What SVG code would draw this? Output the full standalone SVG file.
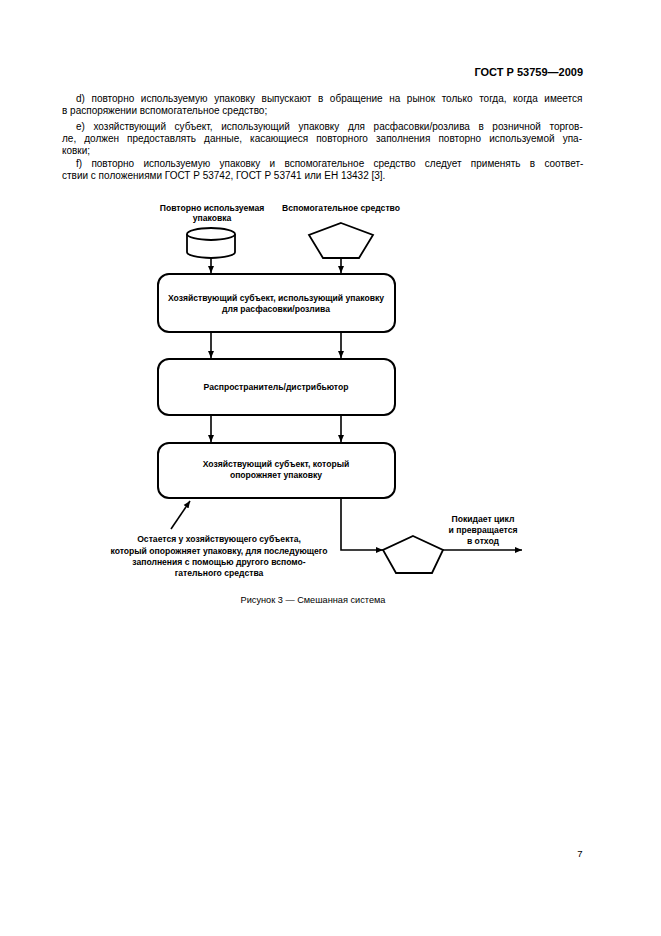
<svg xmlns="http://www.w3.org/2000/svg" width="661" height="936" viewBox="0 0 661 936">
<defs>
<marker id="ah" markerWidth="8" markerHeight="8" refX="7" refY="4" orient="auto" markerUnits="userSpaceOnUse">
<path d="M0,1 L7,4 L0,7 Z" fill="#000"/>
</marker>
<style>
.body{font-family:"Liberation Sans",Arial,sans-serif;font-size:10px;fill:#000}
.lbl{font-family:"Liberation Sans",Arial,sans-serif;font-size:8.6px;font-weight:bold;fill:#000;text-anchor:middle}
.box{fill:#fff;stroke:#000;stroke-width:2}
.shape{fill:#fff;stroke:#000;stroke-width:1.8}
.con{fill:none;stroke:#000;stroke-width:1.6}
</style>
</defs>
<rect width="661" height="936" fill="#fff"/>
<text x="583" y="76" class="body" style="font-size:11px;font-weight:bold" text-anchor="end">ГОСТ Р 53759—2009</text>
<text class="body" x="76" y="102" word-spacing="3.8">d) повторно используемую упаковку выпускают в обращение на рынок только тогда, когда имеется</text>
<text class="body" x="62" y="114">в распоряжении вспомогательное средство;</text>
<text class="body" x="76" y="130" word-spacing="5.8">e) хозяйствующий субъект, использующий упаковку для расфасовки/розлива в розничной торгов-</text>
<text class="body" x="62" y="142" word-spacing="5.3">ле, должен предоставлять данные, касающиеся повторного заполнения повторно используемой упа-</text>
<text class="body" x="62" y="154">ковки;</text>
<text class="body" x="76" y="167" word-spacing="6.5">f) повторно используемую упаковку и вспомогательное средство следует применять в соответ-</text>
<text class="body" x="62" y="179">ствии с положениями ГОСТ Р 53742, ГОСТ Р 53741 или ЕН 13432 [3].</text>

<g id="connectors">
<line class="con" x1="211" y1="258" x2="211" y2="273" marker-end="url(#ah)"/>
<line class="con" x1="341" y1="258" x2="341" y2="273" marker-end="url(#ah)"/>
<line class="con" x1="211" y1="332" x2="211" y2="358" marker-end="url(#ah)"/>
<line class="con" x1="341" y1="332" x2="341" y2="358" marker-end="url(#ah)"/>
<line class="con" x1="211" y1="415" x2="211" y2="442" marker-end="url(#ah)"/>
<line class="con" x1="341" y1="415" x2="341" y2="442" marker-end="url(#ah)"/>
<polyline class="con" points="341,498 341,550 383,550" marker-end="url(#ah)"/>
<line class="con" x1="443" y1="550" x2="522" y2="550" marker-end="url(#ah)"/>
<line class="con" x1="171" y1="529" x2="190" y2="501" marker-end="url(#ah)"/>
</g>

<g id="reusable-pack">
<text class="lbl" x="212" y="211">Повторно используемая</text>
<text class="lbl" x="212" y="221">упаковка</text>
<path class="shape" d="M187,234 L187,252 A24,6 0 0 0 235,252 L235,234"/>
<ellipse class="shape" cx="211" cy="234" rx="24" ry="6"/>
</g>

<g id="auxiliary">
<text class="lbl" x="341" y="211">Вспомогательное средство</text>
<polygon class="shape" points="341,223 373,235 359,258 323,258 309,235"/>
</g>

<g id="filler">
<rect class="box" x="158" y="274" width="237" height="58" rx="11"/>
<text class="lbl" x="276" y="301">Хозяйствующий субъект, использующий упаковку</text>
<text class="lbl" x="276" y="312">для расфасовки/розлива</text>
</g>

<g id="distributor">
<rect class="box" x="158" y="359" width="237" height="56" rx="11"/>
<text class="lbl" x="276" y="390">Распространитель/дистрибьютор</text>
</g>

<g id="emptier">
<rect class="box" x="158" y="443" width="237" height="55" rx="11"/>
<text class="lbl" x="276" y="467">Хозяйствующий субъект, который</text>
<text class="lbl" x="276" y="478">опорожняет упаковку</text>
</g>

<g id="stays-note">
<text class="lbl" x="219" y="542">Остается у хозяйствующего субъекта,</text>
<text class="lbl" x="219" y="554">который опорожняет упаковку, для последующего</text>
<text class="lbl" x="219" y="565">заполнения с помощью другого вспомо-</text>
<text class="lbl" x="219" y="576">гательного средства</text>
</g>

<g id="waste-aux">
<polygon class="shape" points="413,536 443,550 432,573 396,573 383,550"/>
</g>

<g id="leaves-note">
<text class="lbl" x="483" y="522">Покидает цикл</text>
<text class="lbl" x="483" y="533">и превращается</text>
<text class="lbl" x="483" y="544">в отход</text>
</g>

<text class="body" x="313" y="603" style="font-size:9.2px" text-anchor="middle">Рисунок 3 — Смешанная система</text>
<text class="body" x="580" y="857" style="font-size:9.6px" text-anchor="middle">7</text>
</svg>
